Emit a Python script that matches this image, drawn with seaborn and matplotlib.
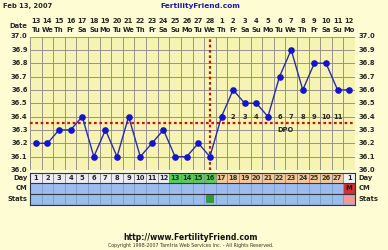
import matplotlib
matplotlib.use('Agg')
import matplotlib.pyplot as plt
import seaborn as sns
import pandas as pd

# ---------------- data ----------------
cycle_days = list(range(1, 29))
temps = [36.2, 36.2, 36.3, 36.3, 36.4, 36.1, 36.3, 36.1, 36.4, 36.1,
         36.2, 36.3, 36.1, 36.1, 36.2, 36.1, 36.4, 36.6, 36.5, 36.5,
         36.4, 36.7, 36.9, 36.6, 36.8, 36.8, 36.6, 36.6]
date_nums = ['13', '14', '15', '16', '17', '18', '19', '20', '21', '22', '23', '24',
             '25', '26', '27', '28', '1', '2', '3', '4', '5', '6', '7', '8', '9',
             '10', '11', '12']
weekdays = ['Tu', 'We', 'Th', 'Fr', 'Sa', 'Su', 'Mo'] * 4
day_labels = [str(i) for i in range(1, 28)] + ['1']
day_phase = ['pre'] * 12 + ['fertile'] * 4 + ['luteal'] * 11 + ['next']
dpo_days = list(range(17, 28))
dpo_labels = [str(i) for i in range(1, 12)]
cm_marks = [''] * 27 + ['M']
stats_marks = [''] * 15 + ['ov'] + [''] * 11 + ['period']
coverline = 36.35
ovulation_day = 16
y_ticks = [37.0, 36.9, 36.8, 36.7, 36.6, 36.5, 36.4, 36.3, 36.2, 36.1, 36.0]
title_date = 'Feb 13, 2007'
site = 'FertilityFriend.com'
url = 'http://www.FertilityFriend.com'
copyright_txt = 'Copyright 1998-2007 Tamtria Web Services Inc. - All Rights Reserved.'

df = pd.DataFrame({'day': cycle_days, 'temp': temps})

# ---------------- style ----------------
sns.set_style('white')
plt.rcParams['font.family'] = ['DejaVu Sans']
W, H = 388, 250
BG = '#fdfcd2'
PLOT_BG = '#f7f3b3'
FS = 4.9
TXT = '#262626'

def fx(px):
    return px / W

def fy(py):
    return 1 - py / H

fig = plt.figure(figsize=(W / 100, H / 100), dpi=100, facecolor=BG)

L, R = 30, 355
T, B = 36.5, 170
ax = fig.add_axes([fx(L), fy(B), (R - L) / W, (B - T) / H])
ax.set_facecolor(PLOT_BG)
ax.set_xlim(0.5, 28.5)
ax.set_ylim(36.0, 37.0)
for x in range(0, 29):
    ax.axvline(x + 0.5, color='#959588', lw=0.7, zorder=1)
for y in y_ticks:
    ax.axhline(y, color='#959588', lw=0.7, zorder=1)
ax.set_xticks([])
ax.set_yticks([])
for s in ax.spines.values():
    s.set_visible(False)

# coverline and ovulation line
ax.axhline(coverline, color='#cc1111', lw=1.6, ls=(0, (1.2, 1.2)), zorder=2)
ax.axvline(ovulation_day, color='#cc1111', lw=1.6, ls=(0, (1.2, 1.2)), zorder=2)

sns.lineplot(data=df, x='day', y='temp', ax=ax, color='#2a2ab8', lw=1.0,
             marker='o', markersize=4.8, markeredgewidth=0,
             markerfacecolor='#1414c8', zorder=5)
ax.set_xlabel('')
ax.set_ylabel('')

# DPO labels
for d, lab in zip(dpo_days, dpo_labels):
    ax.text(d, 36.4, lab, ha='center', va='center', fontsize=FS,
            fontweight='bold', color=TXT, zorder=4)
ax.text(22.5, 36.3, 'DPO', ha='center', va='center', fontsize=FS,
        fontweight='bold', color=TXT, zorder=4)

# y tick labels on both sides
for y in y_ticks:
    ax.text(0.3, y, f'{y:.1f}', ha='right', va='center', fontsize=FS,
            fontweight='bold', color=TXT, clip_on=False)
    ax.text(28.8, y, f'{y:.1f}', ha='left', va='center', fontsize=FS,
            fontweight='bold', color=TXT, clip_on=False)

# date header
for d, num, wd in zip(cycle_days, date_nums, weekdays):
    xc = fx(L + (d - 0.5) * (R - L) / 28)
    fig.text(xc, fy(21), num, ha='center', va='center',
             fontsize=FS, fontweight='bold', color=TXT)
    fig.text(xc, fy(29.5), wd, ha='center', va='center',
             fontsize=FS, fontweight='bold', color=TXT)
fig.text(fx(27.5), fy(25.5), 'Date', ha='right', va='center', fontsize=FS,
         fontweight='bold', color=TXT)
fig.text(fx(3), fy(6), title_date, ha='left', va='center', fontsize=FS,
         fontweight='bold', color=TXT)
fig.text(fx(200), fy(6), site, ha='center', va='center', fontsize=FS + 0.4,
         fontweight='bold', color='#1a1aa8')

# ---------------- bottom table ----------------
TT, TB = 172.5, 204.5
tax = fig.add_axes([fx(L), fy(TB), (R - L) / W, (TB - TT) / H])
tax.set_xlim(0.5, 28.5)
tax.set_ylim(3, 0)
tax.set_xticks([])
tax.set_yticks([])
for s in tax.spines.values():
    s.set_color('#333344')
    s.set_linewidth(0.8)

phase_colors = {'pre': '#ececf2', 'fertile': '#5ccc5c', 'luteal': '#f6c896', 'next': '#f2f2f6'}
text_colors = {'pre': TXT, 'fertile': '#123a12', 'luteal': '#333322', 'next': TXT}
tax.bar(cycle_days, 1, bottom=0, width=1, color=[phase_colors[p] for p in day_phase],
        edgecolor='#8a8a8a', linewidth=0.6)
cm_colors = ['#cc3333' if m == 'M' else '#9bbcec' for m in cm_marks]
tax.bar(cycle_days, 1, bottom=1, width=1, color=cm_colors, edgecolor='#7a98c8', linewidth=0.5)
st_colors = ['#ee9a9a' if m == 'period' else '#9bbcec' for m in stats_marks]
tax.bar(cycle_days, 1, bottom=2, width=1, color=st_colors, edgecolor='#7a98c8', linewidth=0.5)
ov = [d for d, m in zip(cycle_days, stats_marks) if m == 'ov']
tax.bar(ov, 0.72, bottom=2.14, width=0.72, color='#2f9a3a', linewidth=0)
tax.axhline(1, color='#333344', lw=0.8)
tax.axhline(2, color='#333344', lw=0.8)

for d, lab, p in zip(cycle_days, day_labels, day_phase):
    tax.text(d, 0.52, lab, ha='center', va='center', fontsize=FS, fontweight='bold',
             color=text_colors[p])
for d, m in zip(cycle_days, cm_marks):
    if m:
        tax.text(d, 1.5, m, ha='center', va='center', fontsize=FS, fontweight='bold',
                 color='#331111')

for yy, lab in [(0.5, 'Day'), (1.5, 'CM'), (2.5, 'Stats')]:
    tax.text(0.3, yy, lab, ha='right', va='center', fontsize=FS, fontweight='bold',
             color=TXT, clip_on=False)
    tax.text(28.8, yy, lab, ha='left', va='center', fontsize=FS, fontweight='bold',
             color=TXT, clip_on=False)

# footer
fig.text(fx(191), fy(237), url, ha='center', va='center', fontsize=FS + 0.7,
         fontweight='bold', color='#111111')
fig.text(fx(191), fy(245.5), copyright_txt, ha='center', va='center', fontsize=3.4,
         color='#333333')

fig.savefig('out.png', dpi=100, facecolor=BG)
